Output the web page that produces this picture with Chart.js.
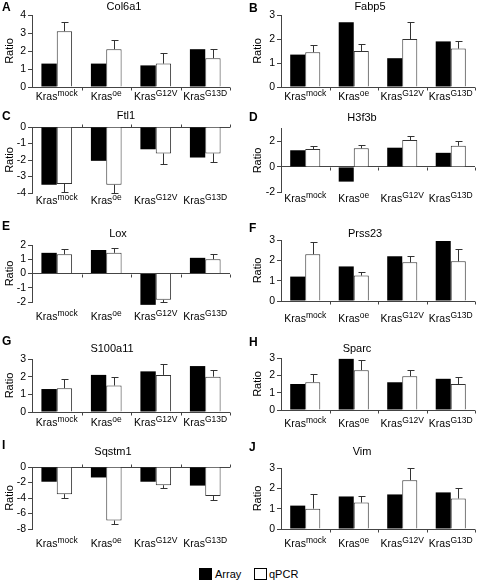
<!DOCTYPE html>
<html><head><meta charset="utf-8">
<script src="https://cdn.jsdelivr.net/npm/chart.js@4.4.1/dist/chart.umd.min.js"></script>
<style>
html,body{margin:0;padding:0;background:#fff;}
#wrap{position:relative;width:477px;height:581px;overflow:hidden;font-family:'Liberation Sans',Arial,sans-serif;}
#wrap canvas{position:absolute;}
.legtxt{position:absolute;font-size:11px;line-height:12px;color:#000;white-space:nowrap;}
.legbox{position:absolute;width:11px;height:10px;border:1px solid #000;}
</style></head><body>
<div id="wrap">
  <div class="legbox" style="left:199px;top:568px;background:#000;"></div>
  <div class="legtxt" style="left:215px;top:568px;">Array</div>
  <div class="legbox" style="left:254px;top:568px;background:#fff;"></div>
  <div class="legtxt" style="left:269px;top:568px;">qPCR</div>
</div>
<script>
// ---------- data ----------
const krasBase = 'Kras';
const krasSup = ['mock', 'oe', 'G12V', 'G13D'];
const genes = ['Col6a1', 'Fabp5', 'Ftl1', 'H3f3b', 'Lox', 'Prss23', 'S100a11', 'Sparc', 'Sqstm1', 'Vim'];
const panelLetters = ['A', 'B', 'C', 'D', 'E', 'F', 'G', 'H', 'I', 'J'];
const seriesNames = ['Array', 'qPCR'];

const arrayCol6a1 = [1.3, 1.3, 1.2, 2.1];
const qpcrCol6a1  = [3.1, 2.1, 1.3, 1.6];
const errCol6a1   = [0.5, 0.5, 0.6, 0.5];

const arrayFabp5 = [1.35, 2.7, 1.2, 1.9];
const qpcrFabp5  = [1.45, 1.5, 2.0, 1.6];
const errFabp5   = [0.3, 0.3, 0.7, 0.3];

const arrayFtl1 = [-3.5, -2.05, -1.35, -1.85];
const qpcrFtl1  = [-3.45, -3.5, -1.6, -1.6];
const errFtl1   = [0.5, 0.5, 0.65, 0.5];

const arrayH3f3b = [1.3, -1.15, 1.5, 1.1];
const qpcrH3f3b  = [1.4, 1.45, 2.1, 1.65];
const errH3f3b   = [0.2, 0.3, 0.35, 0.4];

const arrayLox = [1.45, 1.65, -2.2, 1.1];
const qpcrLox  = [1.35, 1.45, -1.85, 1.0];
const errLox   = [0.4, 0.35, 0.15, 0.4];

const arrayPrss23 = [1.2, 1.7, 2.2, 2.95];
const qpcrPrss23  = [2.3, 1.25, 1.9, 1.95];
const errPrss23   = [0.6, 0.2, 0.3, 0.6];

const arrayS100a11 = [1.3, 2.1, 2.3, 2.6];
const qpcrS100a11  = [1.35, 1.5, 2.1, 2.0];
const errS100a11   = [0.5, 0.5, 0.6, 0.4];

const arraySparc = [1.5, 2.95, 1.6, 1.8];
const qpcrSparc  = [1.6, 2.3, 1.95, 1.5];
const errSparc   = [0.5, 0.6, 0.35, 0.42];

const arraySqstm1 = [-1.9, -1.35, -1.9, -2.4];
const qpcrSqstm1  = [-3.5, -6.9, -2.35, -3.75];
const errSqstm1   = [0.5, 0.5, 0.4, 0.5];

const arrayVim = [1.15, 1.6, 1.7, 1.8];
const qpcrVim  = [1.0, 1.3, 2.4, 1.5];
const errVim   = [0.7, 0.3, 0.6, 0.5];

// y-axis tick ranges per panel
const yMins  = [0, 0, -4, -2, -2, 0, 0, 0, -8, 0];
const yMaxs  = [4, 3, 0, 3, 2, 3, 3, 3, 0, 3];
const ySteps = [1, 1, 1, 2, 1, 1, 1, 1, 2, 1];

const arrayValues = [arrayCol6a1, arrayFabp5, arrayFtl1, arrayH3f3b, arrayLox, arrayPrss23, arrayS100a11, arraySparc, arraySqstm1, arrayVim];
const qpcrValues  = [qpcrCol6a1, qpcrFabp5, qpcrFtl1, qpcrH3f3b, qpcrLox, qpcrPrss23, qpcrS100a11, qpcrSparc, qpcrSqstm1, qpcrVim];
const errValues   = [errCol6a1, errFabp5, errFtl1, errH3f3b, errLox, errPrss23, errS100a11, errSparc, errSqstm1, errVim];

// ---------- layout (page coordinates) ----------
const cols = [
  {left: 0,   w: 238, aL: 32,  aR: 230, letterX: 2},
  {left: 248, w: 229, aL: 281, aR: 475, letterX: 249}
];
const panelLayout = [
  {col:0, top:0,   h:110, aT:15,    aB:87,    tX:124, tY:10,  lY:11,  xY:100},
  {col:1, top:0,   h:110, aT:15,    aB:87,    tX:370, tY:10,  lY:12,  xY:100},
  {col:0, top:108, h:112, aT:127,   aB:193,   tX:126, tY:119, lY:120, xY:204},
  {col:1, top:108, h:112, aT:128.5, aB:192.5, tX:362, tY:121, lY:121, xY:202},
  {col:0, top:220, h:115, aT:245,   aB:302,   tX:118, tY:237, lY:230, xY:320},
  {col:1, top:220, h:115, aT:240,   aB:301,   tX:365, tY:237, lY:232, xY:322},
  {col:0, top:335, h:110, aT:359,   aB:412,   tX:112, tY:352, lY:345, xY:425.5},
  {col:1, top:335, h:110, aT:358,   aB:410,   tX:357, tY:352, lY:346, xY:427},
  {col:0, top:436, h:122, aT:467,   aB:529,   tX:113, tY:455, lY:449, xY:546.5},
  {col:1, top:436, h:122, aT:468,   aB:529,   tX:362, tY:455, lY:451, xY:547}
];

const FONT = "'Liberation Sans', Arial, Helvetica, sans-serif";
const AXIS = '#444';
Chart.defaults.font.family = FONT;
Chart.defaults.color = '#000';

const wrap = document.getElementById('wrap');

genes.forEach((gene, p) => {
  const L = panelLayout[p];
  const C = cols[L.col];
  const canvas = document.createElement('canvas');
  canvas.width = C.w; canvas.height = L.h;
  canvas.style.left = C.left + 'px'; canvas.style.top = L.top + 'px';
  canvas.style.width = C.w + 'px'; canvas.style.height = L.h + 'px';
  wrap.insertBefore(canvas, wrap.firstChild);

  const qv = qpcrValues[p], ev = errValues[p];

  const decor = {
    id: 'decor' + p,
    afterDatasetsDraw(chart) {
      const ctx = chart.ctx, y = chart.scales.y, x = chart.scales.x;
      // error bars on qPCR
      const meta = chart.getDatasetMeta(1);
      ctx.save();
      ctx.strokeStyle = '#333';
      ctx.lineWidth = 1;
      meta.data.forEach((bar, i) => {
        const v = qv[i];
        const s = v >= 0 ? 1 : -1;
        const bx = Math.round(bar.x) + 0.5;
        const y1 = y.getPixelForValue(v);
        const y2 = Math.round(y.getPixelForValue(v + s * ev[i])) + 0.5;
        ctx.beginPath();
        ctx.moveTo(bx, y1); ctx.lineTo(bx, y2);
        ctx.moveTo(bx - 3, y2); ctx.lineTo(bx + 4, y2);
        ctx.stroke();
      });
      // category-boundary ticks on zero line
      const y0 = Math.round(y.getPixelForValue(0)) + 0.5;
      const step = x.width / krasSup.length;
      const dir = yMaxs[p] <= 0 ? -1 : 1;
      ctx.strokeStyle = AXIS;
      ctx.beginPath();
      for (let i = 0; i < krasSup.length; i++) {
        const bx = Math.round(x.getPixelForValue(i) + step / 2) + 0.5;
        ctx.moveTo(bx, y0); ctx.lineTo(bx, y0 + dir * 3);
      }
      ctx.stroke();
      ctx.restore();
    },
    afterDraw(chart) {
      const ctx = chart.ctx, x = chart.scales.x;
      ctx.save();
      ctx.fillStyle = '#000';
      ctx.textBaseline = 'alphabetic';
      // category labels: Kras + superscript
      krasSup.forEach((sup, i) => {
        ctx.font = '10.5px ' + FONT;
        const w1 = ctx.measureText(krasBase).width;
        ctx.font = '8.5px ' + FONT;
        const w2 = ctx.measureText(sup).width;
        const cx = x.getPixelForValue(i);
        const sx = cx - (w1 + w2) / 2;
        const by = L.xY - L.top;
        ctx.font = '10.5px ' + FONT;
        ctx.textAlign = 'left';
        ctx.fillText(krasBase, sx, by);
        ctx.font = '8.5px ' + FONT;
        ctx.fillText(sup, sx + w1, by - 4);
      });
      // gene title
      ctx.font = '11px ' + FONT;
      ctx.textAlign = 'center';
      ctx.fillText(gene, L.tX - C.left, L.tY - L.top);
      // panel letter
      ctx.font = 'bold 12px ' + FONT;
      ctx.textAlign = 'left';
      ctx.fillText(panelLetters[p], C.letterX - C.left, L.lY - L.top);
      ctx.restore();
    }
  };

  new Chart(canvas, {
    type: 'bar',
    data: {
      labels: krasSup.map(s => krasBase + s),
      datasets: [
        {label: seriesNames[0], data: arrayValues[p], backgroundColor: '#000', borderColor: '#000', borderWidth: 0, clip: false},
        {label: seriesNames[1], data: qv, backgroundColor: '#fff', borderColor: '#333', borderWidth: 1, clip: false}
      ]
    },
    options: {
      responsive: false,
      animation: false,
      devicePixelRatio: 1,
      events: [],
      categoryPercentage: 0.62,
      barPercentage: 1.0,
      layout: {padding: {left: 0, top: L.aT - L.top, right: (C.left + C.w) - C.aR, bottom: 0}},
      plugins: {legend: {display: false}, tooltip: {enabled: false}, title: {display: false}},
      scales: {
        x: {
          display: true,
          offset: true,
          grid: {display: false},
          border: {display: false},
          ticks: {display: false},
          afterFit: s => { s.height = (L.top + L.h) - L.aB; }
        },
        y: {
          min: yMins[p], max: yMaxs[p],
          border: {display: true, color: AXIS, width: 1},
          grid: {
            display: true, drawOnChartArea: true, drawTicks: true, tickLength: 4,
            color: c => (c.tick && c.tick.value === 0) ? AXIS : 'rgba(0,0,0,0)',
            tickColor: AXIS, lineWidth: 1
          },
          ticks: {stepSize: ySteps[p], includeBounds: false, autoSkip: false, maxTicksLimit: 20, padding: 2, color: '#000', font: {size: 10.5, family: FONT}},
          title: {display: true, text: 'Ratio', color: '#000', font: {size: 11, family: FONT}, padding: {top: 3, bottom: 3}},
          afterFit: s => { s.width = C.aL - C.left; }
        }
      }
    },
    plugins: [decor]
  });
});
</script>
</body></html>
